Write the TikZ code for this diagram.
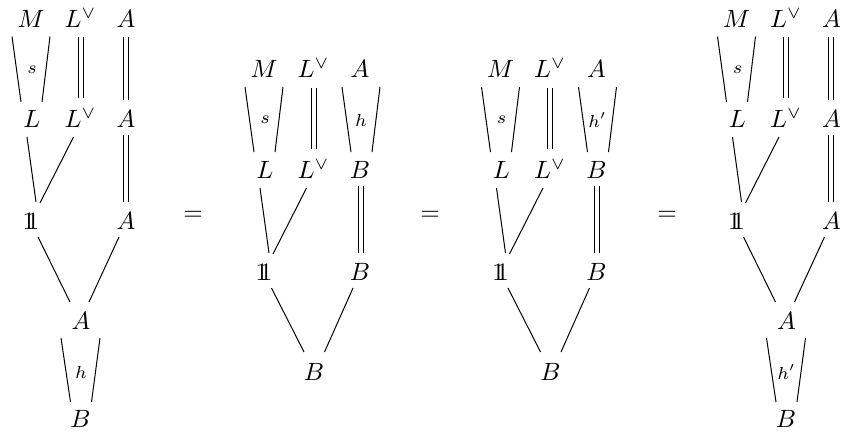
\documentclass[tikz,border=0pt]{standalone}
\usetikzlibrary{calc}
\newcommand{\unitone}{\mathrm{1\!\!1}}
\tikzset{
  obj/.style={inner sep=0pt, text height=7pt, text depth=0pt, anchor=center},
  wire/.style={line width=0.4pt},
  eqw/.style={double, double distance=1.6pt, line width=0.4pt},
  lab/.style={inner sep=0pt, anchor=center}
}
\newcommand{\DiagOne}[1]{%
  \node[obj] (M)  at (31,18.5)  {$M$};
  \node[obj] (V1) at (80.5,18.5){$L^\vee$};
  \node[obj] (A1) at (126,18.5) {$A$};
  \node[obj] (L)  at (32,119)   {$L$};
  \node[obj] (V2) at (80.5,119) {$L^\vee$};
  \node[obj] (A2) at (126,119)  {$A$};
  \node[obj] (U)  at (31,221)   {$\unitone$};
  \node[obj] (A3) at (126,221)  {$A$};
  \node[obj] (A4) at (81,321)   {$A$};
  \node[obj] (B)  at (80.5,419) {$B$};
  \node[lab] (s)  at (32,70)    {$\scriptstyle s$};
  \node[lab] (h)  at (81,372)   {$\scriptstyle #1$};
  \draw[wire] ($(M)+(-19,18)$) -- ($(L)+(-11,-17)$);
  \draw[wire] ($(M)+(19,18)$)  -- ($(L)+(10,-17)$);
  \draw[eqw]  ($(V1)+(0,18.5)$) -- ($(V2)+(0,-21)$);
  \draw[eqw]  ($(A1)+(-0.5,18.5)$) -- ($(A2)+(-0.5,-19)$);
  \draw[eqw]  ($(A2)+(-0.5,16)$) -- ($(A3)+(-0.5,-19)$);
  \draw[wire] ($(L)+(-5,18)$)  -- ($(U)+(5,-19)$);
  \draw[wire] ($(V2)+(-7,18)$) -- ($(U)+(9,-18)$);
  \draw[wire] ($(U)+(7,16)$)   -- ($(A4)+(-11,-19)$);
  \draw[wire] ($(A3)+(-7,16)$) -- ($(A4)+(8,-19)$);
  \draw[wire] ($(A4)+(-20,17)$) -- ($(B)+(-10,-17)$);
  \draw[wire] ($(A4)+(19,17)$)  -- ($(B)+(11,-17)$);
}
\newcommand{\DiagTwo}[1]{%
  \node[obj] (M)  at (31,18)    {$M$};
  \node[obj] (V1) at (80.5,18)  {$L^\vee$};
  \node[obj] (A1) at (127,18)   {$A$};
  \node[obj] (L)  at (32,119)   {$L$};
  \node[obj] (V2) at (80.5,119) {$L^\vee$};
  \node[obj] (B1) at (127,119)  {$B$};
  \node[obj] (U)  at (31,221)   {$\unitone$};
  \node[obj] (B2) at (127,221)  {$B$};
  \node[obj] (B3) at (81,321)   {$B$};
  \node[lab] (s)  at (32,69)    {$\scriptstyle s$};
  \node[lab] (h)  at (128,69)   {$\scriptstyle #1$};
  \draw[wire] ($(M)+(-19,18)$) -- ($(L)+(-11,-18)$);
  \draw[wire] ($(M)+(19,18)$)  -- ($(L)+(10,-18)$);
  \draw[wire] ($(A1)+(-18,18)$) -- ($(B1)+(-9,-18)$);
  \draw[wire] ($(A1)+(20,18)$)  -- ($(B1)+(12,-18)$);
  \draw[eqw]  ($(V1)+(0,18.5)$) -- ($(V2)+(0,-21)$);
  \draw[eqw]  ($(B1)+(0.5,16)$) -- ($(B2)+(0.5,-19)$);
  \draw[wire] ($(L)+(-5,18)$)  -- ($(U)+(5,-19)$);
  \draw[wire] ($(V2)+(-7,18)$) -- ($(U)+(9,-18)$);
  \draw[wire] ($(U)+(7.5,16)$)   -- ($(B3)+(-10,-20)$);
  \draw[wire] ($(B2)+(-7,16)$) -- ($(B3)+(10.5,-20)$);
}
\begin{document}
\begin{tikzpicture}[x=0.4pt,y=-0.4pt]
  \useasboundingbox (0,0) rectangle (841,434);
  \begin{scope}[name prefix=a-]
    \DiagOne{h}
  \end{scope}
  \begin{scope}[shift={(233,51)},name prefix=b-]
    \DiagTwo{h}
  \end{scope}
  \begin{scope}[shift={(469.5,51)},name prefix=c-]
    \DiagTwo{h'}
  \end{scope}
  \begin{scope}[shift={(705.5,0)},name prefix=d-]
    \DiagOne{h'}
  \end{scope}
  \node[lab] (eq1) at (193,216) {$=$};
  \node[lab] (eq2) at (430,216) {$=$};
  \node[lab] (eq3) at (667,216) {$=$};
\end{tikzpicture}
\end{document}
